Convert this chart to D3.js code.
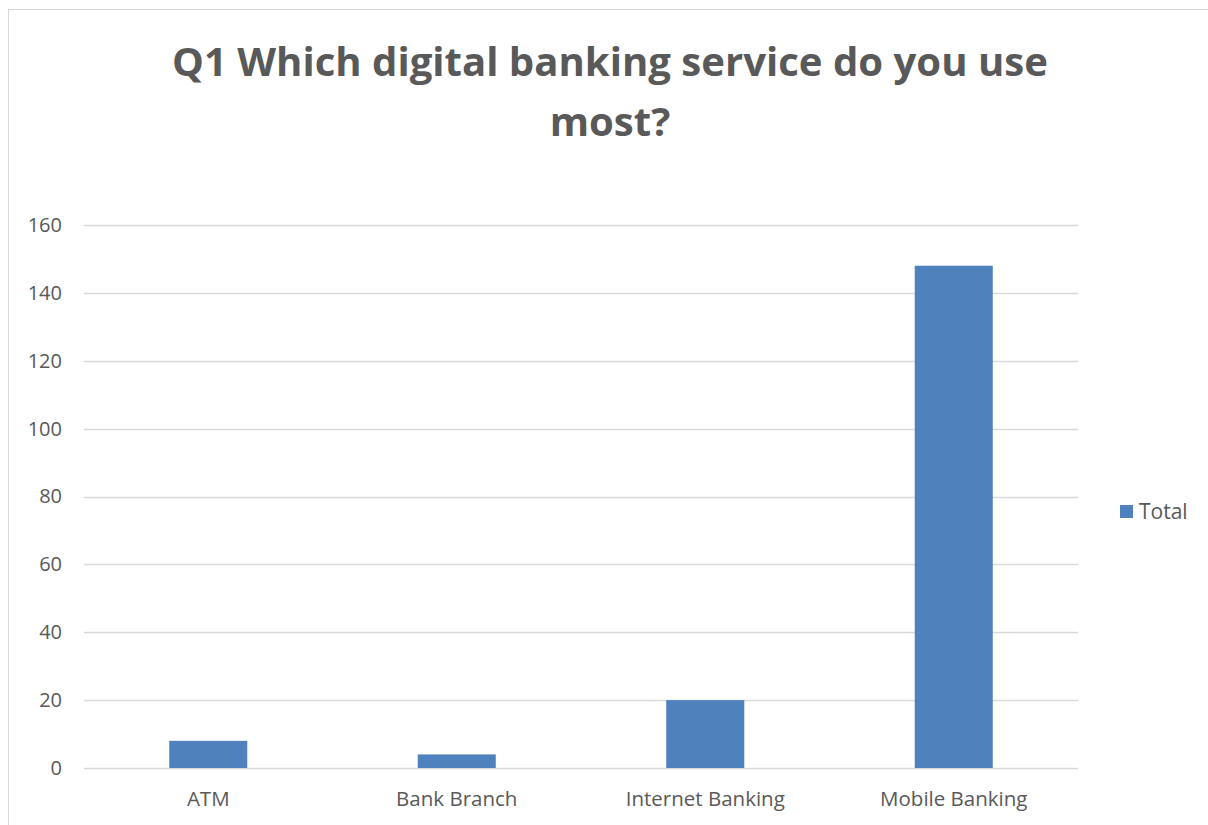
<!DOCTYPE html>
<html>
<head>
<meta charset="utf-8">
<script src="https://cdn.jsdelivr.net/npm/d3@7"></script>
<style>
  html, body { margin: 0; padding: 0; background: #fff; }
  svg { display: block; }
  text { font-family: "Open Sans", "Noto Sans", sans-serif; fill: #595959; }
</style>
</head>
<body>
<svg id="chart" width="1208" height="825"></svg>
<script>
const categories = ["ATM", "Bank Branch", "Internet Banking", "Mobile Banking"];
const totals = [8, 4, 20, 148];
const yTicks = [0, 20, 40, 60, 80, 100, 120, 140, 160];
const seriesName = "Total";
const titleLines = ["Q1 Which digital banking service do you use", "most?"];

const svg = d3.select("#chart");
const W = 1208, H = 825;
const plot = { left: 84, right: 1078, top: 225, bottom: 768 };
const barColor = "#4f81bd";

// chart frame
svg.append("rect")
  .attr("x", 8.5).attr("y", 9.5)
  .attr("width", W + 10).attr("height", H + 10)
  .attr("fill", "#fff").attr("stroke", "#d9d9d9").attr("stroke-width", 1);

// title, sized so the first line spans its intended width
const title = svg.append("g");
const tl1 = title.append("text")
  .attr("x", 610).attr("y", 76)
  .attr("text-anchor", "middle")
  .attr("font-weight", "bold").attr("font-size", 40)
  .text(titleLines[0]);
const w1 = tl1.node().getComputedTextLength();
const fs = 40 * 876 / w1;
tl1.attr("font-size", fs);
title.append("text")
  .attr("x", 610).attr("y", 136)
  .attr("text-anchor", "middle")
  .attr("font-weight", "bold").attr("font-size", fs)
  .text(titleLines[1]);

const x = d3.scaleBand()
  .domain(categories)
  .range([plot.left, plot.right])
  .paddingInner(0.686).paddingOuter(0.343);

const y = d3.scaleLinear()
  .domain([0, 160])
  .range([plot.bottom, plot.top]);

// gridlines
svg.append("g")
  .selectAll("line")
  .data(yTicks)
  .join("line")
  .attr("x1", plot.left).attr("x2", plot.right)
  .attr("y1", d => Math.round(y(d)) + 0.5)
  .attr("y2", d => Math.round(y(d)) + 0.5)
  .attr("stroke", "#d9d9d9").attr("stroke-width", 1.5);

// y axis labels
const yAxis = d3.axisLeft(y).tickValues(yTicks).tickSize(0).tickPadding(0);
const yg = svg.append("g")
  .attr("transform", `translate(${plot.left - 22},0)`)
  .call(yAxis);
yg.select(".domain").remove();
yg.selectAll("text")
  .attr("font-size", 20)
  .attr("fill", "#595959")
  .attr("font-family", "\"Open Sans\", sans-serif");

// bars
svg.append("g")
  .selectAll("rect")
  .data(totals)
  .join("rect")
  .attr("x", (d, i) => x(categories[i]))
  .attr("width", x.bandwidth())
  .attr("y", d => y(d))
  .attr("height", d => y(0) - y(d))
  .attr("fill", barColor);

// x axis labels
const xAxis = d3.axisBottom(x).tickSize(0).tickPadding(0);
const xg = svg.append("g")
  .attr("transform", `translate(0,${plot.bottom + 23})`)
  .call(xAxis);
xg.select(".domain").remove();
xg.selectAll("text")
  .attr("font-size", 20.5)
  .attr("fill", "#595959")
  .attr("font-family", "\"Open Sans\", sans-serif");

// legend
const lg = svg.append("g").attr("transform", "translate(1120,505)");
lg.append("rect").attr("width", 13).attr("height", 13).attr("fill", barColor);
lg.append("text").attr("x", 19).attr("y", 14)
  .attr("font-size", 21).text(seriesName);
</script>
</body>
</html>
